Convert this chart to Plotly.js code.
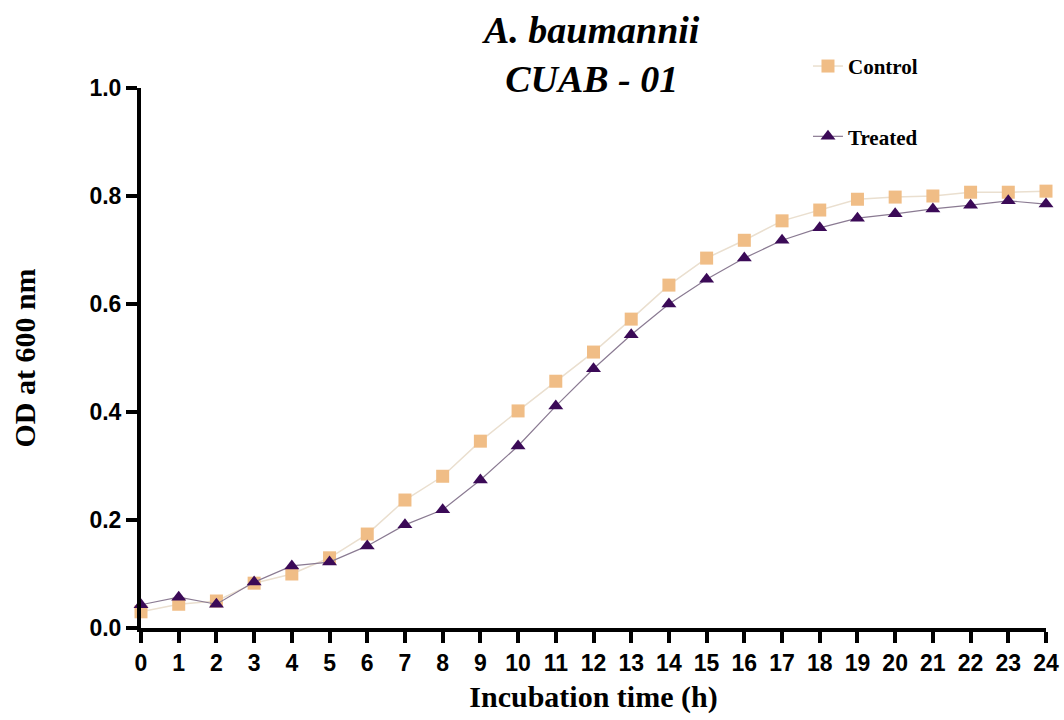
<!DOCTYPE html>
<html>
<head>
<meta charset="utf-8">
<script src="https://cdn.plot.ly/plotly-3.0.1.min.js"></script>
<style>html,body{margin:0;padding:0;background:#fff;}#chart{width:1064px;height:720px;}</style>
</head>
<body>
<div id="chart"></div>
<script>
const hours = [0,1,2,3,4,5,6,7,8,9,10,11,12,13,14,15,16,17,18,19,20,21,22,23,24];
const controlOD = [0.030,0.044,0.050,0.083,0.100,0.130,0.174,0.237,0.281,0.346,0.402,0.457,0.511,0.572,0.635,0.685,0.718,0.754,0.774,0.794,0.798,0.800,0.807,0.807,0.809];
const treatedOD = [0.043,0.057,0.044,0.085,0.115,0.122,0.152,0.191,0.219,0.274,0.337,0.411,0.480,0.543,0.600,0.646,0.685,0.718,0.741,0.759,0.767,0.776,0.783,0.791,0.785];
const yTicks = [0,0.2,0.4,0.6,0.8,1.0];
const yTickText = ['0.0','0.2','0.4','0.6','0.8','1.0'];

const traces = [
  {x: hours, y: controlOD, name: 'Control', mode: 'lines+markers', legendgroup: 'c',
   line: {color: '#eadfcf', width: 1.5},
   marker: {symbol: 'square', size: 13, color: '#f0bd86'}, cliponaxis: false},
  {x: hours, y: treatedOD, name: 'Treated', mode: 'lines+markers', legendgroup: 't',
   line: {color: '#8a7a92', width: 1.2},
   marker: {symbol: 'triangle-up', size: 13, color: '#3b0a57'}, cliponaxis: false}
];

const layout = {
  width: 1064, height: 720,
  paper_bgcolor: '#fff', plot_bgcolor: '#fff',
  margin: {l: 141, r: 18, t: 88, b: 92},
  annotations: [{text: '<b><i>A. baumannii<br>CUAB - 01</i></b>', showarrow: false,
    xref: 'paper', yref: 'paper', x: 0.497, y: 1.062, xanchor: 'center', yanchor: 'middle',
    font: {family: 'Liberation Serif', size: 38, color: '#000'}}],
  showlegend: true,
  legend: {x: 0.737, y: 1.078, xanchor: 'left', yanchor: 'top', tracegroupgap: 40,
    font: {family: 'Liberation Serif', size: 21, color: '#000', weight: 'bold'},
    bgcolor: 'rgba(0,0,0,0)', itemwidth: 30},
  xaxis: {range: [0, 24], tickvals: hours, ticktext: hours.map(String),
    showgrid: false, zeroline: false, showline: true, linewidth: 4, linecolor: '#000',
    ticks: 'outside', ticklen: 11, tickwidth: 4, tickcolor: '#000',
    tickfont: {family: 'Liberation Sans', size: 23, color: '#000', weight: 'bold'},
    title: {text: '<b>Incubation time (h)</b>', font: {family: 'Liberation Serif', size: 30, color: '#000'}, standoff: 12}},
  yaxis: {range: [0, 1], tickvals: yTicks, ticktext: yTickText,
    showgrid: false, zeroline: false, showline: true, linewidth: 4, linecolor: '#000',
    ticks: 'outside', ticklen: 11, tickwidth: 4, tickcolor: '#000',
    tickfont: {family: 'Liberation Sans', size: 23, color: '#000', weight: 'bold'},
    title: {text: '<b>OD at 600 nm</b>', font: {family: 'Liberation Serif', size: 30, color: '#000'}, standoff: 46}}
};

Plotly.newPlot('chart', traces, layout, {displayModeBar: false, staticPlot: true});
</script>
</body>
</html>
